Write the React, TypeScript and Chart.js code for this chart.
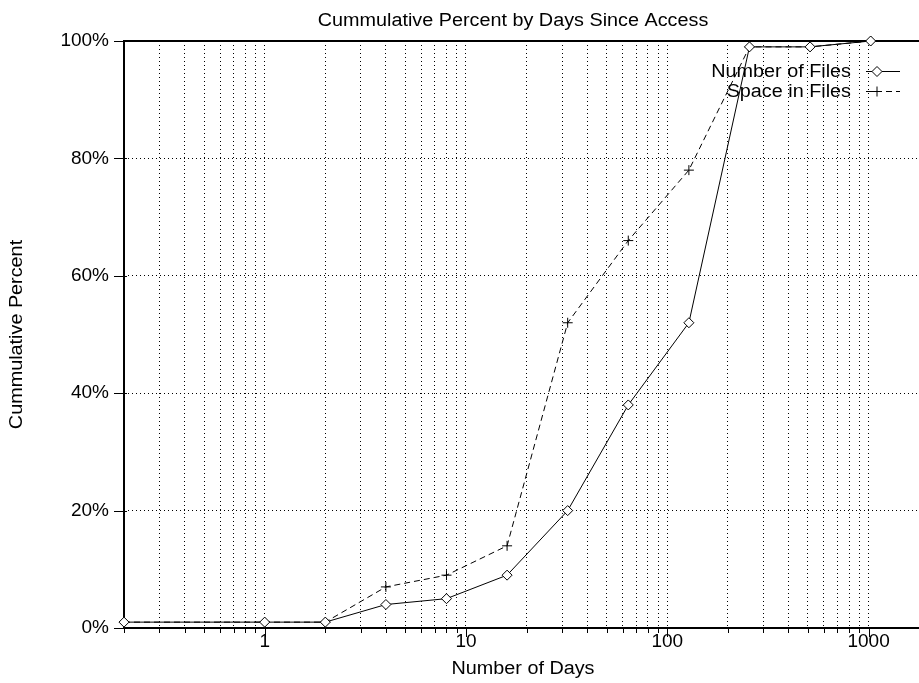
import React, { useEffect, useRef } from 'react';
import { Chart, registerables } from 'chart.js';

Chart.register(...registerables);

// ---- data ----
const days = [0.2, 1, 2, 4, 8, 16, 32, 64, 128, 256, 512, 1024];
const numberOfFiles = [1, 1, 1, 4, 5, 9, 20, 38, 52, 99, 99, 100];
const spaceInFiles = [1, 1, 1, 7, 9, 14, 52, 66, 78, 99, 99, 100];

// ---- ticks / labels ----
const xMin = 0.2;
const xMax = 1780;
const xMajorTicks = [1, 10, 100, 1000];
const xGridTicks = [
  0.2, 0.3, 0.4, 0.5, 0.6, 0.7, 0.8, 0.9,
  1, 2, 3, 4, 5, 6, 7, 8, 9,
  10, 20, 30, 40, 50, 60, 70, 80, 90,
  100, 200, 300, 400, 500, 600, 700, 800, 900,
  1000,
];
const yTicks = [0, 20, 40, 60, 80, 100];
const seriesNames = ['Number of Files', 'Space in Files'];
const chartTitle = 'Cummulative Percent by Days Since Access';
const xTitle = 'Number of Days';
const yTitle = 'Cummulative Percent';

const FONT_FAMILY = '"Liberation Sans", Arial, Helvetica, sans-serif';
const TICK_FONT_SIZE = 19;
const TEXT_FONT = `18px ${FONT_FAMILY}`;
const STRETCH = 1.1;

function diamond(ctx: CanvasRenderingContext2D, x: number, y: number, r: number) {
  ctx.beginPath();
  ctx.moveTo(x, y - r);
  ctx.lineTo(x + r, y);
  ctx.lineTo(x, y + r);
  ctx.lineTo(x - r, y);
  ctx.closePath();
  ctx.fillStyle = '#fff';
  ctx.fill();
  ctx.stroke();
}

function cross(ctx: CanvasRenderingContext2D, x: number, y: number, r: number) {
  ctx.beginPath();
  ctx.moveTo(x - r, y);
  ctx.lineTo(x + r, y);
  ctx.moveTo(x, y - r);
  ctx.lineTo(x, y + r);
  ctx.stroke();
}

function stretchedText(
  ctx: CanvasRenderingContext2D,
  text: string,
  x: number,
  y: number,
  align: CanvasTextAlign,
) {
  ctx.save();
  ctx.fillStyle = '#000';
  ctx.font = TEXT_FONT;
  ctx.textBaseline = 'middle';
  ctx.textAlign = align;
  ctx.translate(x, y);
  ctx.scale(STRETCH, 1);
  ctx.fillText(text, 0, 0);
  ctx.restore();
}

const decorPlugin = {
  id: 'decor',
  beforeDraw(chart: any) {
    const { ctx, width, height } = chart;
    ctx.save();
    ctx.fillStyle = '#fff';
    ctx.fillRect(0, 0, width, height);
    ctx.restore();
  },
  beforeDatasetsDraw(chart: any) {
    const { ctx, chartArea: a } = chart;
    const xs = chart.scales.x;
    const ys = chart.scales.y;
    ctx.save();
    ctx.strokeStyle = '#000';
    ctx.setLineDash([]);
    ctx.lineWidth = 1;
    ctx.beginPath();
    xs.ticks.forEach((t: any) => {
      const px = Math.round(xs.getPixelForValue(t.value)) + 0.5;
      const major = xMajorTicks.includes(t.value);
      ctx.moveTo(px, a.bottom);
      ctx.lineTo(px, a.bottom + (major ? 9 : 5));
    });
    ys.ticks.forEach((t: any) => {
      const py = Math.round(ys.getPixelForValue(t.value)) + 0.5;
      ctx.moveTo(a.left - 10, py);
      ctx.lineTo(a.left + 3, py);
    });
    ctx.stroke();
    ctx.lineWidth = 2;
    ctx.beginPath();
    ctx.moveTo(a.left, a.top);
    ctx.lineTo(a.right, a.top);
    ctx.moveTo(a.left, a.bottom);
    ctx.lineTo(a.right, a.bottom);
    ctx.moveTo(a.left, a.top - 1);
    ctx.lineTo(a.left, a.bottom + 1);
    ctx.stroke();
    ctx.restore();
  },
  afterDraw(chart: any) {
    const { ctx, chartArea: a } = chart;

    stretchedText(ctx, chartTitle, 513, 21.5, 'center');
    stretchedText(ctx, xTitle, 523, 669.5, 'center');

    ctx.save();
    ctx.translate(17, (a.top + a.bottom) / 2);
    ctx.rotate(-Math.PI / 2);
    stretchedText(ctx, yTitle, 0, 0, 'center');
    ctx.restore();

    // legend
    const rows = [71, 91];
    chart.data.datasets.forEach((ds: any, i: number) => {
      const y = rows[i];
      stretchedText(ctx, ds.label, 851, y + 1, 'right');
      ctx.save();
      ctx.strokeStyle = '#000';
      ctx.lineWidth = 1;
      ctx.setLineDash(ds.borderDash || []);
      ctx.beginPath();
      ctx.moveTo(866, y + 0.5);
      ctx.lineTo(900, y + 0.5);
      ctx.stroke();
      ctx.setLineDash([]);
      if (ds.pointStyle === 'rectRot') diamond(ctx, 877, y + 0.5, 5);
      else cross(ctx, 877, y + 0.5, 5);
      ctx.restore();
    });
  },
};

export default function App() {
  const canvasRef = useRef<HTMLCanvasElement | null>(null);

  useEffect(() => {
    const canvas = canvasRef.current;
    if (!canvas) return;
    const chart = new Chart(canvas, {
      type: 'line',
      data: {
        datasets: [
          {
            label: seriesNames[0],
            data: days.map((d, i) => ({ x: d, y: numberOfFiles[i] })),
            borderColor: '#000',
            borderWidth: 1,
            pointStyle: 'rectRot',
            pointRadius: 5,
            pointBackgroundColor: '#fff',
            pointBorderColor: '#000',
            pointBorderWidth: 1,
            tension: 0,
            clip: false,
          },
          {
            label: seriesNames[1],
            data: days.map((d, i) => ({ x: d, y: spaceInFiles[i] })),
            borderColor: '#000',
            borderWidth: 1,
            borderDash: [6, 4],
            pointStyle: 'cross',
            pointRadius: 5,
            pointBorderColor: '#000',
            pointBorderWidth: 1,
            tension: 0,
            clip: false,
          },
        ],
      },
      options: {
        responsive: false,
        animation: false,
        devicePixelRatio: 1,
        layout: { autoPadding: false, padding: { top: 41, left: 0, right: 0, bottom: 0 } },
        plugins: {
          legend: { display: false },
          title: { display: false },
          tooltip: { enabled: false },
        },
        scales: {
          x: {
            type: 'logarithmic',
            min: xMin,
            max: xMax,
            afterBuildTicks: (s: any) => {
              s.ticks = xGridTicks.map((v) => ({ value: v }));
            },
            afterFit: (s: any) => {
              s.height = 55;
            },
            grid: { color: '#000', lineWidth: 1, drawTicks: false },
            border: { display: false, dash: [1, 3] },
            ticks: {
              autoSkip: false,
              maxRotation: 0,
              minRotation: 0,
              padding: 2,
              color: '#000',
              font: { family: FONT_FAMILY, size: TICK_FONT_SIZE },
              callback: (v: any) => (xMajorTicks.includes(Number(v)) ? String(v) : ''),
            },
          },
          y: {
            type: 'linear',
            min: 0,
            max: 100,
            afterBuildTicks: (s: any) => {
              s.ticks = yTicks.map((v) => ({ value: v }));
            },
            afterFit: (s: any) => {
              s.width = 124;
            },
            grid: { color: '#000', lineWidth: 1, drawTicks: false },
            border: { display: false, dash: [1, 3] },
            ticks: {
              padding: 15,
              color: '#000',
              font: { family: FONT_FAMILY, size: TICK_FONT_SIZE },
              callback: (v: any) => `${v}%`,
            },
          },
        },
      },
      plugins: [decorPlugin],
    } as any);
    return () => chart.destroy();
  }, []);

  return (
    <div style={{ position: 'absolute', left: 0, top: 0, width: 919, height: 683 }}>
      <canvas ref={canvasRef} width={919} height={683} style={{ display: 'block' }} />
    </div>
  );
}
